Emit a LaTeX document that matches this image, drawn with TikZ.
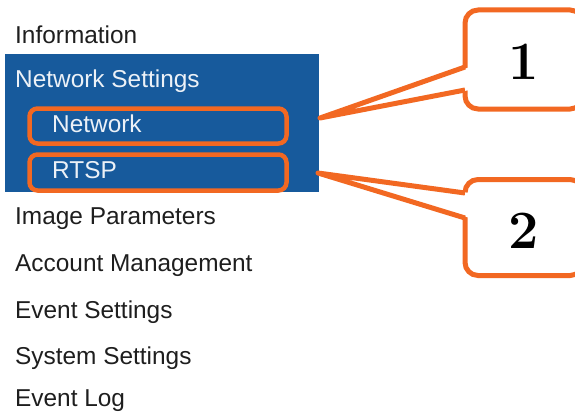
\documentclass[tikz,border=0pt]{standalone}
\usepackage{fontspec}
\setmainfont{Liberation Sans}
\newfontfamily\lmfont{Latin Modern Roman}
\definecolor{menublue}{HTML}{175A9C}
\definecolor{hiorange}{HTML}{F26822}
\definecolor{menutext}{HTML}{1E1E1E}
\definecolor{seltext}{HTML}{ECF1F7}
\tikzset{
  item/.style={anchor=base west, inner sep=0pt, text=menutext, font=\fontsize{24.4}{28}\selectfont},
  selitem/.style={item, text=seltext},
  hibox/.style={draw=hiorange, line width=4.5pt, rounded corners=8pt},
  callbox/.style={draw=hiorange, fill=white, line width=5pt, rounded corners=13pt, inner sep=0pt},
  pointer/.style={draw=hiorange, line width=5pt, line join=round},
  numtext/.style={inner sep=0pt, font=\lmfont\bfseries\fontsize{54}{60}\selectfont}
}
\begin{document}
\begin{tikzpicture}[x=1pt,y=-1pt]
\useasboundingbox (0,0) rectangle (575,412);
\clip (0,0) rectangle (575,412);
% selected band
\fill[menublue] (5,54) rectangle (319,192);
% menu items
\node[item] (info) at (15,44) {Information};
\node[selitem] (netset) at (15,87) {Network Settings};
\node[selitem] (net) at (52,132) {Network};
\node[selitem] (rtsp) at (52,178) {RTSP};
\node[item] (img) at (15,224) {Image Parameters};
\node[item] (acc) at (15,271) {Account Management};
\node[item] (evs) at (15,318) {Event Settings};
\node[item] (sys) at (15,364.5) {System Settings};
\node[item] (log) at (15,406) {Event Log};
% highlight boxes
\draw[hibox] (29.5,108.5) rectangle (286.5,143.5);
\draw[hibox] (29.5,154.5) rectangle (286.5,190.5);
% callout boxes
\node[callbox, minimum width=118pt, minimum height=99pt] (c1) at (524,59.5) {};
\node[callbox, minimum width=118pt, minimum height=96pt] (c2) at (524,227.5) {};
\node[numtext] (n1) at (523.5,62) {1};
\node[numtext] (n2) at (524,231) {2};
% pointer points
\coordinate (t1) at (320,118);
\coordinate (a1) at (465,67);
\coordinate (b1) at (465,90);
\coordinate (t2) at (318,173);
\coordinate (a2) at (465,193);
\coordinate (b2) at (465,218);
% cover box border in pointer gaps
\fill[white] (t1) -- (470,67) -- (470,90) -- cycle;
\fill[white] (t2) -- (470,193) -- (470,218) -- cycle;
\draw[pointer] (a1) -- (t1) -- (b1);
\draw[pointer] (a2) -- (t2) -- (b2);
\end{tikzpicture}
\end{document}
